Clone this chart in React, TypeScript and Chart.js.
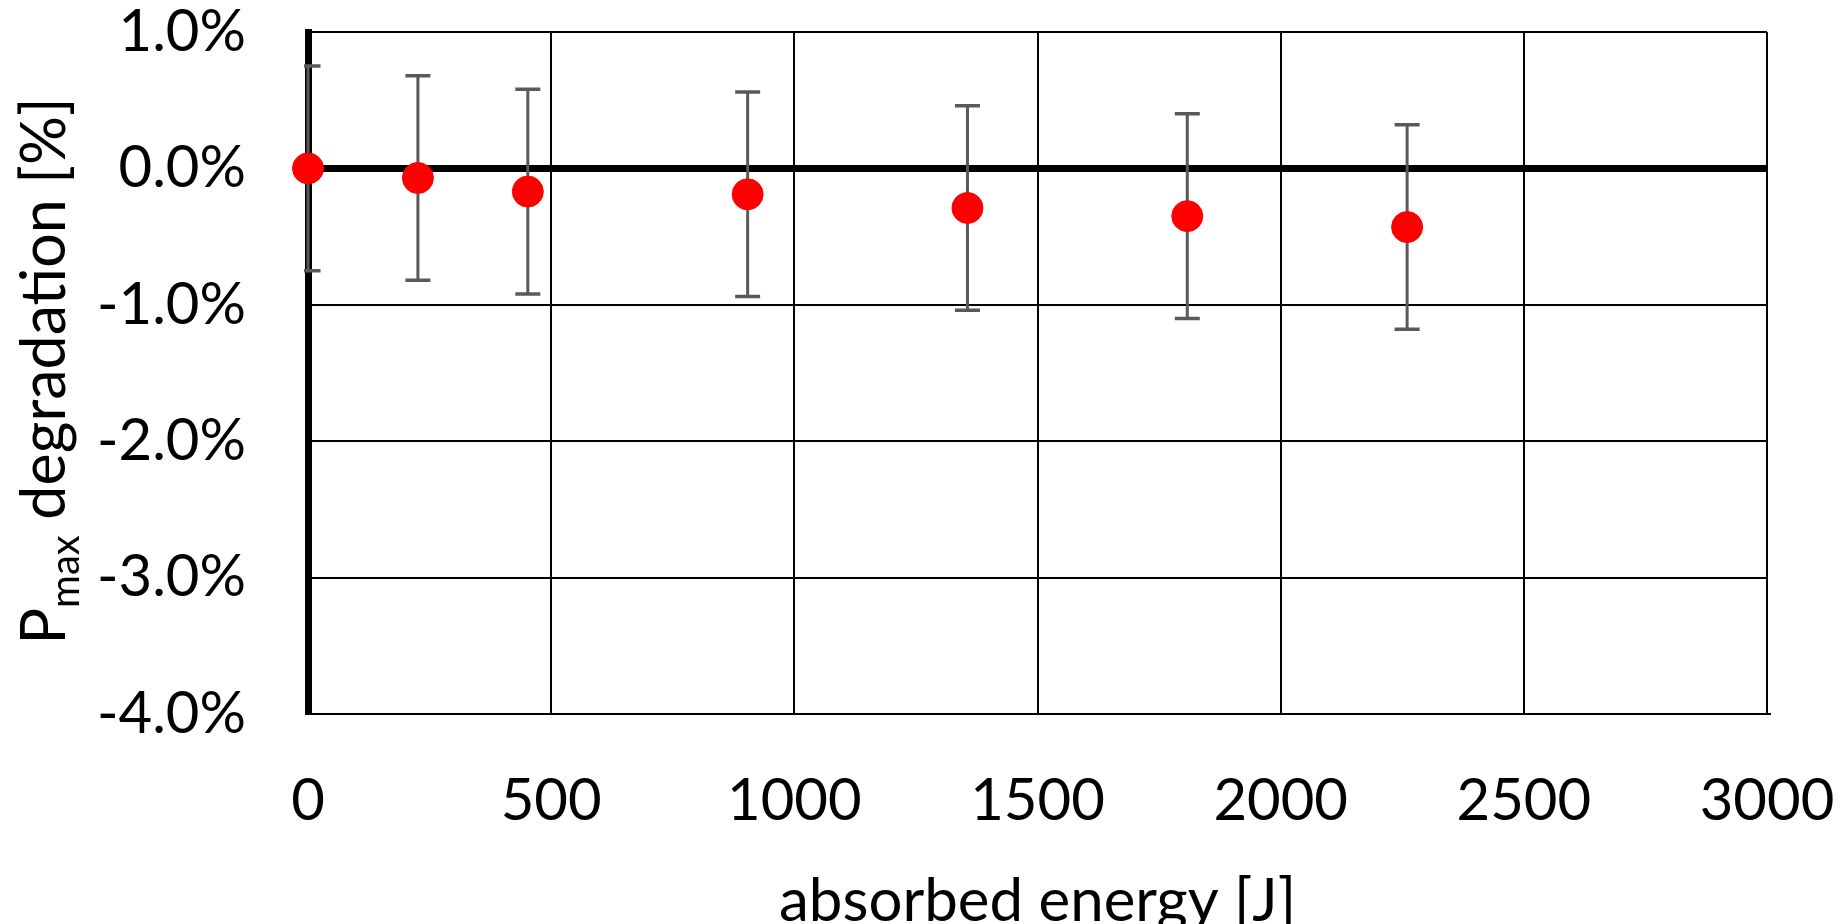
import React, { useEffect, useRef } from "react";
import { Chart, registerables } from "chart.js";

Chart.register(...registerables);

// ---- data ----
const energies = [0, 226, 452, 904, 1356, 1808, 2260];
const degradation = [0.0, -0.07, -0.17, -0.19, -0.29, -0.35, -0.43];
const errPlus = [0.75, 0.75, 0.75, 0.75, 0.75, 0.75, 0.75];
const errMinus = [0.75, 0.75, 0.75, 0.75, 0.75, 0.75, 0.75];
const xTickValues = [0, 500, 1000, 1500, 2000, 2500, 3000];
const yTickValues = [-4, -3, -2, -1, 0, 1];
const xTitle = "absorbed energy [J]";
const yTitleMain = "P";
const yTitleSub = "max";
const yTitleRest = " degradation [%]";

const FONT = "Lato, 'Liberation Sans', sans-serif";
const FONT_SIZE = 58;

export default function App() {
  const ref = useRef<HTMLCanvasElement>(null);

  useEffect(() => {
    document.body.style.margin = "0";
    const canvas = ref.current;
    if (!canvas) return;

    const errorBars = {
      id: "errorBars",
      beforeDatasetsDraw(chart: any) {
        const { ctx, chartArea, scales } = chart;
        const x = scales.x;
        const y = scales.y;
        ctx.save();
        ctx.beginPath();
        ctx.rect(chartArea.left - 4, chartArea.top, chartArea.right - chartArea.left + 4, chartArea.bottom - chartArea.top);
        ctx.clip();
        ctx.strokeStyle = "#595959";
        const cap = 12.5;
        energies.forEach((e, i) => {
          const px = x.getPixelForValue(e);
          const top = y.getPixelForValue(degradation[i] + errPlus[i]);
          const bot = y.getPixelForValue(degradation[i] - errMinus[i]);
          ctx.lineWidth = 3;
          ctx.beginPath();
          ctx.moveTo(px, top);
          ctx.lineTo(px, bot);
          ctx.stroke();
          ctx.lineWidth = 3.5;
          ctx.beginPath();
          ctx.moveTo(px - cap, top);
          ctx.lineTo(px + cap, top);
          ctx.moveTo(px - cap, bot);
          ctx.lineTo(px + cap, bot);
          ctx.stroke();
        });
        ctx.restore();
      },
    };

    const titles = {
      id: "titles",
      afterDraw(chart: any) {
        const { ctx, chartArea } = chart;
        ctx.save();
        ctx.fillStyle = "#000";
        ctx.textBaseline = "alphabetic";
        ctx.textAlign = "center";
        ctx.font = `60px ${FONT}`;
        ctx.fillText(xTitle, (chartArea.left + chartArea.right) / 2, 921);

        // rotated y title with subscript
        const mainFont = `61px ${FONT}`;
        const subFont = `40px ${FONT}`;
        ctx.font = mainFont;
        const wP = ctx.measureText(yTitleMain).width;
        const wRest = ctx.measureText(yTitleRest).width;
        ctx.font = subFont;
        const wSub = ctx.measureText(yTitleSub).width;
        const total = wP + wSub + wRest;
        ctx.translate(65, 371);
        ctx.rotate(-Math.PI / 2);
        ctx.textAlign = "left";
        let cx = -total / 2;
        ctx.font = mainFont;
        ctx.fillText(yTitleMain, cx, 0);
        cx += wP;
        ctx.font = subFont;
        ctx.fillText(yTitleSub, cx, 14);
        cx += wSub;
        ctx.font = mainFont;
        ctx.fillText(yTitleRest, cx, 0);
        ctx.restore();
      },
    };

    const zeroPad = (s: any) => {
      s.paddingTop = 0;
      s.paddingBottom = 0;
      s.paddingLeft = 0;
      s.paddingRight = 0;
    };

    const chart = new Chart(canvas, {
      type: "scatter",
      data: {
        datasets: [
          {
            data: energies.map((e, i) => ({ x: e, y: degradation[i] })),
            backgroundColor: "#FF0000",
            borderColor: "#FF0000",
            borderWidth: 1,
            pointRadius: 15.5,
            pointHoverRadius: 15.5,
            clip: false as any,
          },
        ],
      },
      options: {
        responsive: false,
        animation: false,
        events: [],
        layout: { padding: { top: 32, right: 75, left: 0, bottom: 0 }, autoPadding: false } as any,
        plugins: {
          legend: { display: false },
          tooltip: { enabled: false },
          title: { display: false },
        },
        scales: {
          x: {
            type: "linear",
            min: 0,
            max: 3000,
            afterBuildTicks: (s: any) => {
              s.ticks = xTickValues.map((v) => ({ value: v }));
            },
            ticks: {
              font: { family: FONT, size: FONT_SIZE },
              color: "#000",
              padding: 52,
              maxRotation: 0,
              autoSkip: false,
              callback: (v: any) => String(v),
            },
            grid: {
              color: "#000",
              lineWidth: (c: any) => (c.tick && c.tick.value === 0 ? 7 : 2),
              drawTicks: false,
            },
            border: { display: true, color: "#000", width: 2 },
            afterFit: (s: any) => {
              s.height = 210;
              zeroPad(s);
            },
          },
          y: {
            type: "linear",
            min: -4,
            max: 1,
            afterBuildTicks: (s: any) => {
              s.ticks = yTickValues.map((v) => ({ value: v }));
            },
            ticks: {
              font: { family: FONT, size: FONT_SIZE },
              color: "#000",
              padding: 62,
              autoSkip: false,
              callback: (v: any) => Number(v).toFixed(1) + "%",
            },
            grid: {
              color: "#000",
              lineWidth: (c: any) => (c.tick && c.tick.value === 0 ? 7 : 2),
              drawTicks: false,
            },
            border: { display: true, color: "#000", width: 7 },
            afterFit: (s: any) => {
              s.width = 308;
              zeroPad(s);
            },
          },
        },
      },
      plugins: [errorBars, titles],
    });

    return () => chart.destroy();
  }, []);

  return (
    <div style={{ position: "absolute", left: 0, top: 0, width: 1842, height: 924, background: "#fff" }}>
      <canvas ref={ref} width={1842} height={924} style={{ display: "block" }} />
    </div>
  );
}
